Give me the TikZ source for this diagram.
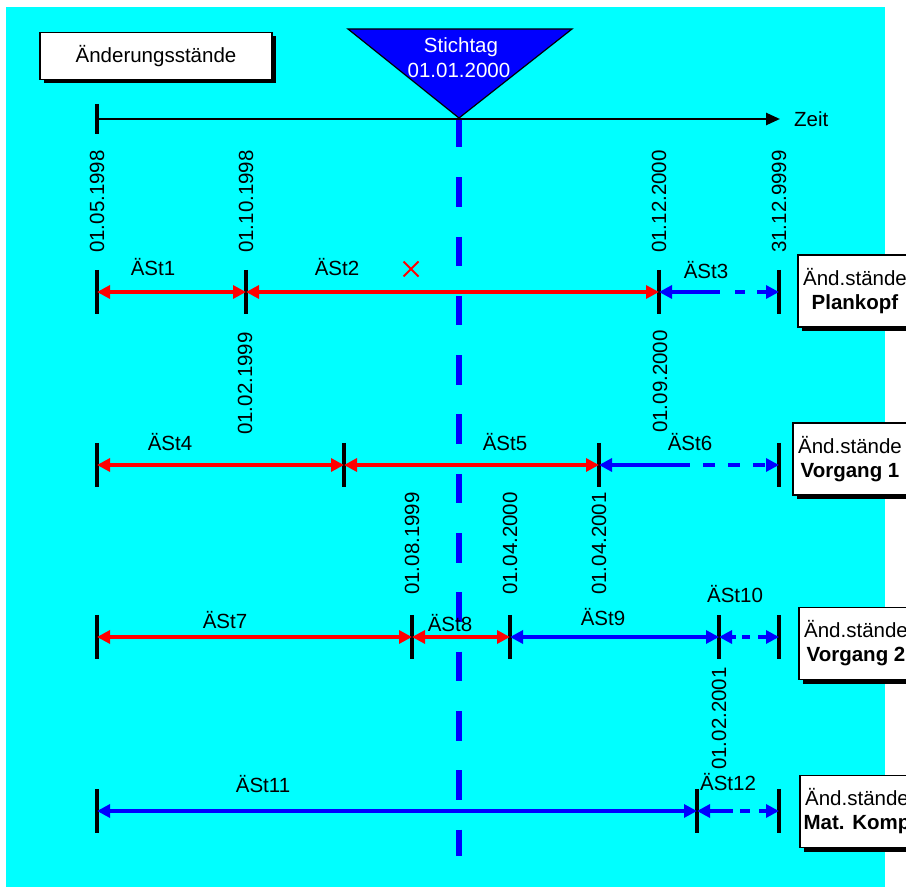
\documentclass[tikz,border=0pt]{standalone}
\usepackage{fontspec}
\setmainfont{Liberation Sans}
\usetikzlibrary{arrows.meta,shadows,shapes.misc}
\definecolor{bgc}{RGB}{0,255,255}
\definecolor{bl}{RGB}{0,0,255}
\definecolor{rd}{RGB}{255,0,0}
\begin{document}
\begin{tikzpicture}[x=1pt,y=-1pt,
  font=\fontsize{20.5}{24}\selectfont,
  tk/.style={line width=4pt,black},
  sp/.style={line width=3.2pt,{Triangle[length=13pt,width=13pt]}-{Triangle[length=13pt,width=13pt]}},
  spl/.style={line width=3.2pt,{Triangle[length=13pt,width=13pt]}-},
  spr/.style={line width=3.2pt,-{Triangle[length=13pt,width=13pt]}},
  lbl/.style={inner sep=0pt},
  dlbl/.style={rotate=90,anchor=west,inner sep=0pt},
  sbox/.style={draw=black,fill=white,line width=1.2pt,inner sep=0pt,align=center,
    drop shadow={shadow xshift=4pt,shadow yshift=-4pt,opacity=1,fill=black}},
  rbox/.style={sbox,minimum width=114pt,minimum height=72pt}
]
\useasboundingbox (0,0) rectangle (906,890);
\fill[white] (0,0) rectangle (906,890);
\fill[bgc] (6,7) rectangle (885,887);

% title box
\node[sbox,minimum width=232pt,minimum height=47pt] (title) at (156,56) {Änderungsstände};

% Stichtag triangle
\coordinate (apex) at (459,118);
\coordinate (vbot) at (459,856);
\draw[fill=bl,line width=1.2pt] (348,29) -- (572,29) -- (apex) -- cycle;
\node[lbl,white] (stich) at (461,47) {Stichtag};
\node[lbl,white] (sdate) at (459,70) {01.01.2000};

% vertical dashed line
\draw[bl,line width=6pt,dash pattern=on 29.5pt off 29.8pt] (apex) -- (vbot);

% time axis
\coordinate (t0) at (97,119);
\coordinate (tend) at (780,119);
\node[lbl,anchor=west] (zeit) at (794,119) {Zeit};
\draw[line width=2.5pt,-{Triangle[length=14pt,width=12pt]}] (t0) -- (tend);
\draw[tk] ([yshift=15pt]t0) -- ([yshift=-15pt]t0);

% ---------- Row 1: Plankopf ----------
\coordinate (a1) at (97,292);
\coordinate (a2) at (246,292);
\coordinate (a3) at (659,292);
\coordinate (a4) at (779,292);
\coordinate (am1) at (720,292);
\coordinate (am2) at (735,292);
\foreach \p in {a1,a2,a3,a4} \draw[tk] ([yshift=22pt]\p) -- ([yshift=-22pt]\p);
\draw[sp,rd] (a1) -- (a2);
\draw[sp,rd] (a2) -- (a3);
\draw[spl,bl] (a3) -- (am1);
\draw[spr,bl,dash pattern=on 10pt off 12pt] (am2) -- (a4);
\node[dlbl] (d11) at (97,253) {01.05.1998};
\node[dlbl] (d12) at (246,253) {01.10.1998};
\node[dlbl] (d13) at (659,253) {01.12.2000};
\node[dlbl] (d14) at (779,253) {31.12.9999};
\node[lbl] (s1) at (153,267) {ÄSt1};
\node[lbl] (s2) at (337,267) {ÄSt2};
\node[lbl] (s3) at (706,270) {ÄSt3};
\node[cross out,draw=rd,line width=2pt,minimum size=13pt,inner sep=0pt] (xmark) at (411,269) {};
\node[rbox] (b1) at (855,291) {Änd.stände\\\textbf{Plankopf}};

% ---------- Row 2: Vorgang 1 ----------
\coordinate (b21) at (97,465);
\coordinate (b22) at (344,465);
\coordinate (b23) at (599,465);
\coordinate (b24) at (779,465);
\coordinate (bm1) at (690,465);
\coordinate (bm2) at (703,465);
\foreach \p in {b21,b22,b23,b24} \draw[tk] ([yshift=22pt]\p) -- ([yshift=-22pt]\p);
\draw[sp,rd] (b21) -- (b22);
\draw[sp,rd] (b22) -- (b23);
\draw[spl,bl] (b23) -- (bm1);
\draw[spr,bl,dash pattern=on 12pt off 13pt] (bm2) -- (b24);
\node[dlbl] (d21) at (245,435) {01.02.1999};
\node[dlbl] (d22) at (660,433) {01.09.2000};
\node[lbl] (s4) at (170,442) {ÄSt4};
\node[lbl] (s5) at (505,442) {ÄSt5};
\node[lbl] (s6) at (690,442) {ÄSt6};
\node[rbox] (b2) at (850,459) {Änd.stände\\\textbf{Vorgang 1}};

% ---------- Row 3: Vorgang 2 ----------
\coordinate (c1) at (97,637);
\coordinate (c2) at (412,637);
\coordinate (c3) at (510,637);
\coordinate (c4) at (719,637);
\coordinate (c5) at (779,637);
\coordinate (cm1) at (736,637);
\coordinate (cm2) at (742,637);
\foreach \p in {c1,c2,c3,c4,c5} \draw[tk] ([yshift=22pt]\p) -- ([yshift=-22pt]\p);
\draw[sp,rd] (c1) -- (c2);
\draw[sp,rd] (c2) -- (c3);
\draw[sp,bl] (c3) -- (c4);
\draw[spl,bl] (c4) -- (cm1);
\draw[spr,bl,dash pattern=on 8pt off 8pt] (cm2) -- (c5);
\node[dlbl] (d31) at (412,595) {01.08.1999};
\node[dlbl] (d32) at (510,595) {01.04.2000};
\node[dlbl] (d33) at (599,595) {01.04.2001};
\node[lbl] (s7) at (225,620) {ÄSt7};
\node[lbl] (s8) at (450,623) {ÄSt8};
\node[lbl] (s9) at (603,617) {ÄSt9};
\node[lbl] (s10) at (735,594) {ÄSt10};
\node[rbox] (b3) at (856,643.5) {Änd.stände\\\textbf{Vorgang 2}};

% ---------- Row 4: Mat. Komp ----------
\coordinate (e1) at (97,811);
\coordinate (e2) at (697,811);
\coordinate (e3) at (779,811);
\coordinate (em1) at (733,811);
\coordinate (em2) at (740,811);
\foreach \p in {e1,e2,e3} \draw[tk] ([yshift=22pt]\p) -- ([yshift=-22pt]\p);
\draw[sp,bl] (e1) -- (e2);
\draw[spl,bl] (e2) -- (em1);
\draw[spr,bl,dash pattern=on 10pt off 9pt] (em2) -- (e3);
\node[dlbl] (d41) at (719,770) {01.02.2001};
\node[lbl] (s11) at (263,784) {ÄSt11};
\node[lbl] (s12) at (728,782) {ÄSt12};
\node[rbox] (b4) at (857,811.5) {Änd.stände\\\textbf{Mat. Komp}};
\end{tikzpicture}
\end{document}
